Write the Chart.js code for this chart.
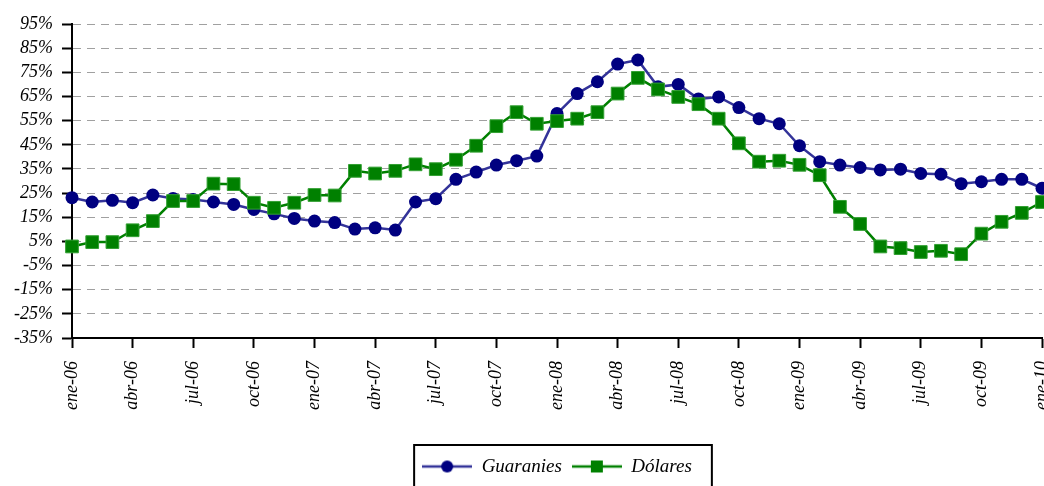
<!DOCTYPE html>
<html lang="es">
<head>
<meta charset="UTF-8">
<title>Guaranies y Dólares</title>
<script src="https://cdn.jsdelivr.net/npm/chart.js"></script>
<style>
  html, body { margin: 0; padding: 0; background: #fff; overflow: hidden; }
  #marco { width: 1044px; height: 486px; }
</style>
</head>
<body>
<div id="marco"><canvas id="grafico"></canvas></div>
<script>
// datos (%)
const meses = [
  'ene-06','feb-06','mar-06','abr-06','may-06','jun-06','jul-06','ago-06','sep-06','oct-06','nov-06','dic-06',
  'ene-07','feb-07','mar-07','abr-07','may-07','jun-07','jul-07','ago-07','sep-07','oct-07','nov-07','dic-07',
  'ene-08','feb-08','mar-08','abr-08','may-08','jun-08','jul-08','ago-08','sep-08','oct-08','nov-08','dic-08',
  'ene-09','feb-09','mar-09','abr-09','may-09','jun-09','jul-09','ago-09','sep-09','oct-09','nov-09','dic-09',
  'ene-10'
];
const guaranies = [
  23.1, 21.3, 22.0, 21.0, 24.2, 22.8, 22.3, 21.3, 20.3, 18.2, 16.4, 14.5,
  13.4, 12.8, 10.1, 10.6, 9.7, 21.3, 22.7, 30.7, 33.7, 36.6, 38.4, 40.3,
  57.9, 66.2, 71.1, 78.4, 80.1, 69.0, 70.0, 64.0, 64.8, 60.4, 55.8, 53.7,
  44.6, 38.0, 36.6, 35.6, 34.6, 34.9, 33.1, 32.8, 28.9, 29.7, 30.7, 30.7,
  27.0
];
const dolares = [
  2.9, 4.7, 4.7, 9.6, 13.4, 21.7, 21.7, 28.9, 28.7, 21.0, 18.9, 21.0,
  24.2, 24.0, 34.2, 33.1, 34.2, 36.9, 34.9, 38.8, 44.6, 52.7, 58.5, 53.7,
  54.8, 55.8, 58.5, 66.2, 72.7, 67.9, 64.8, 61.8, 55.8, 45.6, 38.0, 38.4,
  36.7, 32.4, 19.3, 12.2, 2.9, 2.2, 0.6, 1.1, -0.3, 8.2, 13.1, 16.8,
  21.3
];

Chart.defaults.font.family = "'Liberation Serif', 'DejaVu Serif', serif";
Chart.defaults.font.style = 'italic';
Chart.defaults.font.size = 18;
Chart.defaults.color = '#000';

// iconos de la leyenda: línea con marcador
function icono(colorLinea, colorPunto, forma) {
  const c = document.createElement('canvas');
  c.width = 50; c.height = 16;
  const g = c.getContext('2d');
  g.strokeStyle = colorLinea;
  g.lineWidth = 2.5;
  g.beginPath(); g.moveTo(0, 8); g.lineTo(50, 8); g.stroke();
  g.fillStyle = colorPunto;
  if (forma === 'circle') {
    g.beginPath(); g.arc(25, 8, 6, 0, Math.PI * 2); g.fill();
  } else {
    g.fillRect(19, 2, 12, 12);
  }
  return c;
}
const iconos = [icono('#333399', '#000080', 'circle'), icono('#008000', '#008000', 'rect')];

// recuadro alrededor de la leyenda
const recuadroLeyenda = {
  id: 'recuadroLeyenda',
  afterDraw(chart) {
    const cajas = chart.legend.legendHitBoxes;
    if (!cajas || !cajas.length) return;
    const ult = cajas[cajas.length - 1];
    const izq = cajas[0].left - 8;
    const der = ult.left + ult.width + 20;
    const arriba = cajas[0].top - 12;
    const ctx = chart.ctx;
    ctx.save();
    ctx.strokeStyle = '#000';
    ctx.lineWidth = 2;
    ctx.strokeRect(izq, arriba, der - izq, 80);
    ctx.restore();
  }
};

new Chart(document.getElementById('grafico'), {
  type: 'line',
  data: {
    labels: meses,
    datasets: [
      {
        label: 'Guaranies',
        data: guaranies,
        order: 1,
        borderColor: '#333399',
        borderWidth: 2.5,
        pointStyle: 'circle',
        pointRadius: 6.5,
        pointBackgroundColor: '#000080',
        pointBorderColor: '#000080',
        pointBorderWidth: 0,
        tension: 0,
        clip: 12
      },
      {
        label: 'Dólares',
        data: dolares,
        order: 0,
        borderColor: '#008000',
        borderWidth: 2.5,
        pointStyle: 'rect',
        pointRadius: 9,
        pointBackgroundColor: '#008000',
        pointBorderColor: '#33a033',
        pointBorderWidth: 1,
        tension: 0,
        clip: 12
      }
    ]
  },
  options: {
    responsive: true,
    maintainAspectRatio: false,
    animation: false,
    events: [],
    layout: { autoPadding: false, padding: { top: 24, left: 0, right: 2, bottom: 0 } },
    plugins: {
      tooltip: { enabled: false },
      legend: {
        position: 'bottom',
        fullSize: false,
        labels: {
          usePointStyle: true,
          pointStyleWidth: 50,
          padding: 10,
          font: { size: 19 },
          sort: (a, b) => a.datasetIndex - b.datasetIndex,
          generateLabels(chart) {
            const base = Chart.defaults.plugins.legend.labels.generateLabels(chart);
            return base.map(it => ({ ...it, pointStyle: iconos[it.datasetIndex] }));
          }
        }
      }
    },
    scales: {
      x: {
        offset: false,
        grid: {
          drawOnChartArea: false,
          tickLength: 10,
          tickWidth: 2,
          tickColor: c => (c.index % 3 === 0 ? '#000' : 'rgba(0,0,0,0)')
        },
        border: { color: '#000', width: 2 },
        ticks: {
          autoSkip: false,
          minRotation: 90,
          maxRotation: 90,
          padding: 13,
          callback: (v, i) => (i % 3 === 0 ? meses[i] : '')
        },
        afterFit(s) { s.height = 109; s.paddingLeft = 0; s.paddingRight = 0; }
      },
      y: {
        min: -35,
        max: 95,
        grid: { color: '#a0a0a0', lineWidth: 1, tickColor: '#000', tickLength: 10, tickWidth: 2 },
        border: { color: '#000', width: 2, dash: [8, 6] },
        ticks: { stepSize: 10, autoSkip: false, padding: 9, callback: v => v + '%' },
        afterFit(s) { s.width = 72; s.paddingTop = 0; s.paddingBottom = 0; }
      }
    }
  },
  plugins: [recuadroLeyenda]
});
</script>
</body>
</html>
